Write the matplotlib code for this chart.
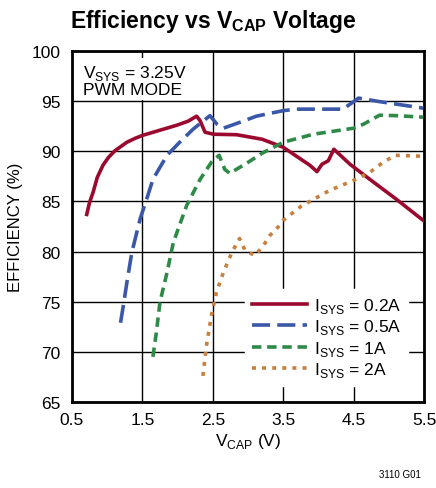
import matplotlib
matplotlib.use('Agg')
import matplotlib.pyplot as plt

plt.rcParams['font.family'] = ['Liberation Sans', 'DejaVu Sans']

# I_SYS = 0.2A
x_02 = [0.71, 0.75, 0.80, 0.86, 0.94, 1.02, 1.11, 1.20, 1.28, 1.40, 1.51, 1.75, 1.99,
        2.15, 2.27, 2.32, 2.39, 2.51, 2.84, 3.20, 3.50, 3.88, 3.98, 4.05, 4.14, 4.22,
        4.45, 4.73, 5.11, 5.49]
y_02 = [83.7, 84.9, 85.9, 87.4, 88.6, 89.4, 90.05, 90.5, 90.9, 91.3, 91.6, 92.1, 92.6,
        93.0, 93.5, 93.05, 91.9, 91.7, 91.65, 91.2, 90.4, 88.6, 87.97, 88.7, 89.05, 90.2,
        88.7, 87.2, 85.2, 83.1]

# I_SYS = 0.5A
x_05 = [1.19, 1.23, 1.28, 1.35, 1.47, 1.56, 1.65, 1.85, 2.03, 2.22, 2.46, 2.56, 2.65,
        2.89, 3.12, 3.50, 3.69, 4.35, 4.57, 4.87, 5.49]
y_05 = [72.9, 74.6, 76.9, 79.9, 83.3, 85.2, 87.2, 89.6, 90.9, 92.2, 93.55, 92.7, 92.3,
        92.9, 93.5, 94.05, 94.2, 94.2, 95.3, 94.95, 94.3]

# I_SYS = 1A
x_1 = [1.65, 1.70, 1.75, 1.85, 1.94, 2.06, 2.13, 2.32, 2.48, 2.59, 2.67, 2.74, 2.98,
       3.20, 3.50, 3.93, 4.50, 4.64, 4.87, 5.11, 5.49]
y_1 = [69.5, 72.0, 74.95, 77.9, 80.9, 83.25, 84.6, 87.2, 88.9, 89.6, 88.2, 87.8, 88.8,
       89.8, 90.9, 91.7, 92.3, 92.7, 93.6, 93.55, 93.4]

# I_SYS = 2A
x_2 = [2.36, 2.41, 2.48, 2.55, 2.65, 2.77, 2.88, 2.96, 3.10, 3.22, 3.31, 3.45, 3.50,
       3.75, 4.16, 4.50, 4.73, 4.92, 5.09, 5.49]
y_2 = [67.6, 70.6, 73.6, 75.9, 77.9, 79.9, 81.3, 80.1, 79.6, 80.6, 81.6, 82.6, 83.1,
       84.5, 86.1, 87.1, 87.9, 88.9, 89.6, 89.5]

x_ticks = [0.5, 1.5, 2.5, 3.5, 4.5, 5.5]
y_ticks = [65, 70, 75, 80, 85, 90, 95, 100]

fig = plt.figure(figsize=(4.36, 4.89), dpi=100)
ax = fig.add_axes([0.165, 0.1759, 0.8075, 0.7178])

ax.plot(x_02, y_02, color='#9B0A2E', linewidth=2.6, solid_joinstyle='round',
        label=r'I$_{\mathregular{SYS}}$ = 0.2A', zorder=3)
ax.plot(x_05, y_05, color='#3B58A8', linewidth=2.6, dashes=(5, 2),
        label=r'I$_{\mathregular{SYS}}$ = 0.5A', zorder=3)
ax.plot(x_1, y_1, color='#2F8A48', linewidth=2.6, dashes=(2.6, 1.6),
        label=r'I$_{\mathregular{SYS}}$ = 1A', zorder=3)
ax.plot(x_2, y_2, color='#C8803C', linewidth=2.6, dashes=(1.1, 1.7),
        label=r'I$_{\mathregular{SYS}}$ = 2A', zorder=3)

ax.set_xlim(0.5, 5.5)
ax.set_ylim(65, 100)
ax.set_xticks(x_ticks)
ax.set_yticks(y_ticks)
ax.set_xticklabels([str(t) for t in x_ticks])
ax.tick_params(length=0, labelsize=12.5)
ax.tick_params(axis='y', pad=8)
ax.tick_params(axis='x', pad=7)
ax.grid(True, color='black', linewidth=1)
ax.set_axisbelow(True)
for s in ax.spines.values():
    s.set_linewidth(2)

ax.set_xlabel(r'V$_{\mathregular{CAP}}$ (V)', fontsize=12.5, labelpad=3)
ax.set_ylabel('EFFICIENCY (%)', fontsize=12, labelpad=6)

ax.text(0.03, 0.965, 'V$_{\\mathregular{SYS}}$ = 3.25V\nPWM MODE', transform=ax.transAxes,
        fontsize=12.5, va='top', ha='left', linespacing=1.0,
        bbox=dict(facecolor='white', edgecolor='none', pad=2))

leg = ax.legend(loc='lower right', fontsize=12.5, frameon=True, framealpha=1,
                edgecolor='white', fancybox=False, handlelength=3.2,
                borderaxespad=0.9, labelspacing=0.15, handletextpad=0.4)

fig.text(0.49, 0.957, r'Efficiency vs V$_{\mathregular{CAP}}$ Voltage', ha='center',
         va='center', fontsize=16.5, fontweight='bold')
fig.text(0.965, 0.018, '3110 G01', ha='right', va='bottom', fontsize=7)

plt.savefig('out.png', dpi=100)
